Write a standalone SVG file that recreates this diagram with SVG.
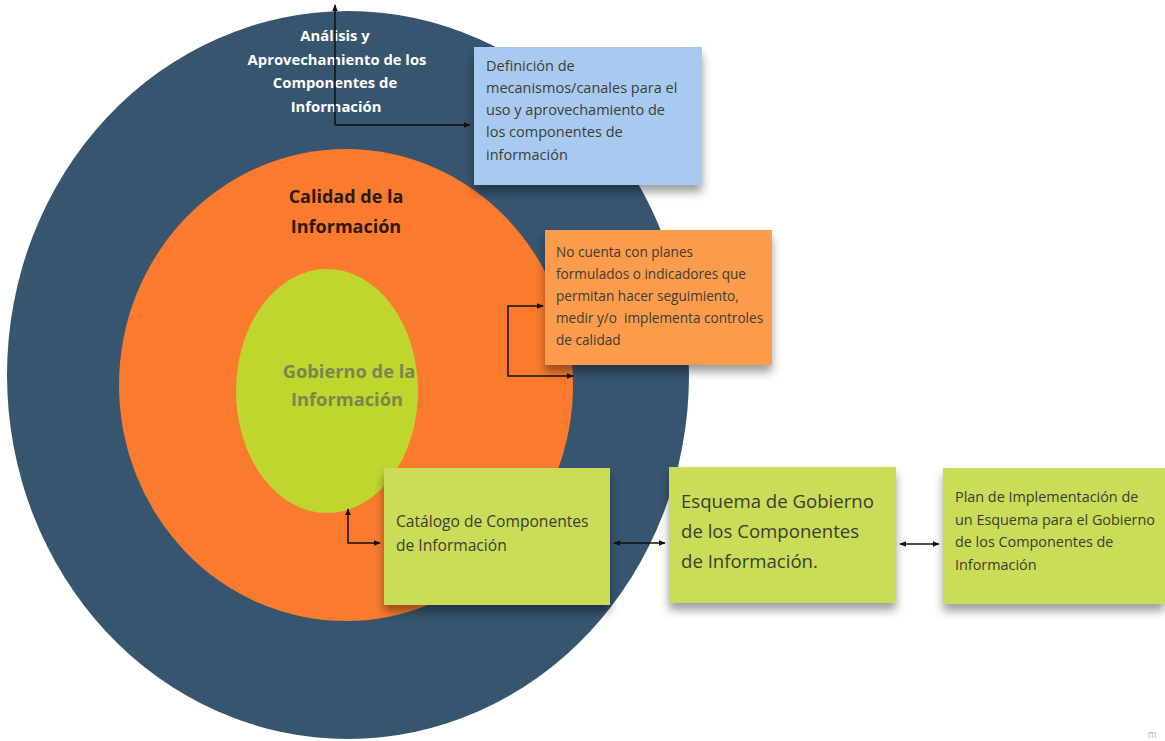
<svg xmlns="http://www.w3.org/2000/svg" width="1165" height="741" viewBox="0 0 1165 741">
<defs>
<style>
.note-t{font-family:"Open Sans","Noto Sans",sans-serif;fill:#3d3d33}
.ring-t{font-family:"Open Sans","Noto Sans",sans-serif;font-weight:700;text-anchor:middle}
.conn{fill:none;stroke:#111;stroke-width:1.5}
</style>
<filter id="sh" x="-10%" y="-10%" width="120%" height="140%">
<feDropShadow dx="0" dy="7" stdDeviation="5" flood-color="#000" flood-opacity="0.38"/>
</filter>
<marker id="ah" viewBox="0 0 10 10" refX="9" refY="5" markerWidth="7" markerHeight="7" orient="auto-start-reverse" markerUnits="userSpaceOnUse">
<path d="M0,1 L10,5 L0,9 Z" fill="#111"/>
</marker>
</defs>
<rect width="1165" height="741" fill="#fff"/>
<g id="ring-analisis">
<ellipse cx="348" cy="375" rx="341" ry="364" fill="#37556f"/>
<text class="ring-t" x="335" y="41" font-size="14.8" fill="#fff">Análisis y</text>
<text class="ring-t" x="337" y="65" font-size="14.8" fill="#fff">Aprovechamiento de los</text>
<text class="ring-t" x="335" y="88" font-size="14.8" fill="#fff">Componentes de</text>
<text class="ring-t" x="336" y="112" font-size="14.8" fill="#fff">Información</text>
</g>
<g id="ring-calidad">
<ellipse cx="346" cy="385" rx="227" ry="236" fill="#fa7b2e"/>
<text class="ring-t" x="346" y="203" font-size="18" fill="#2b1a14">Calidad de la</text>
<text class="ring-t" x="346" y="233" font-size="18" fill="#2b1a14">Información</text>
</g>
<g id="ring-gobierno">
<ellipse cx="327" cy="391" rx="91" ry="122" fill="#bfd62e"/>
<text class="ring-t" x="349" y="378" font-size="18.3" fill="#7c8450">Gobierno de la</text>
<text class="ring-t" x="347" y="406" font-size="18.3" fill="#7c8450">Información</text>
</g>
<g id="note-definicion">
<rect x="474" y="47" width="228" height="138" fill="#a8caf0" filter="url(#sh)"/>
<text class="note-t" font-size="14.5">
<tspan x="486" y="71">Definición de</tspan>
<tspan x="486" y="93">mecanismos/canales para el</tspan>
<tspan x="486" y="115">uso y aprovechamiento de</tspan>
<tspan x="486" y="137">los componentes de</tspan>
<tspan x="486" y="160">información</tspan>
</text>
</g>
<g id="note-calidad">
<rect x="545" y="230" width="227" height="135" fill="#fb9c4e" filter="url(#sh)"/>
<text class="note-t" font-size="13.6" xml:space="preserve"><tspan x="556" y="257">No cuenta con planes</tspan><tspan x="556" y="279">formulados o indicadores que</tspan><tspan x="556" y="301">permitan hacer seguimiento,</tspan><tspan x="556" y="323">medir y/o  implementa controles</tspan><tspan x="556" y="345">de calidad</tspan></text>
</g>
<g id="note-catalogo">
<rect x="384" y="468" width="226" height="137" fill="#cadc58" filter="url(#sh)"/>
<text class="note-t" font-size="15.6">
<tspan x="396" y="527">Catálogo de Componentes</tspan>
<tspan x="396" y="551">de Información</tspan>
</text>
</g>
<g id="note-esquema">
<rect x="669" y="467" width="227" height="136" fill="#cadc58" filter="url(#sh)"/>
<text class="note-t" font-size="18.6">
<tspan x="681" y="508">Esquema de Gobierno</tspan>
<tspan x="681" y="538">de los Componentes</tspan>
<tspan x="681" y="568">de Información.</tspan>
</text>
</g>
<g id="note-plan">
<rect x="943" y="468" width="222" height="136" fill="#cadc58" filter="url(#sh)"/>
<text class="note-t" font-size="14.4">
<tspan x="955" y="502">Plan de Implementación de</tspan>
<tspan x="955" y="525">un Esquema para el Gobierno</tspan>
<tspan x="955" y="547">de los Componentes de</tspan>
<tspan x="955" y="570">Información</tspan>
</text>
</g>
<g id="connectors">
<path class="conn" d="M335,125 L335,5" marker-end="url(#ah)"/>
<path class="conn" d="M335,125 L470,125" marker-end="url(#ah)"/>
<path class="conn" d="M543,306 L508,306 L508,376 L573,376" marker-start="url(#ah)" marker-end="url(#ah)"/>
<path class="conn" d="M348,509 L348,543 L380,543" marker-start="url(#ah)" marker-end="url(#ah)"/>
<path class="conn" d="M614,543 L665,543" marker-start="url(#ah)" marker-end="url(#ah)"/>
<path class="conn" d="M900,544 L939,544" marker-start="url(#ah)" marker-end="url(#ah)"/>
</g>
<text x="1148" y="738" font-family="Liberation Sans, sans-serif" font-size="10" fill="#b8b8b8">m</text>
</svg>
